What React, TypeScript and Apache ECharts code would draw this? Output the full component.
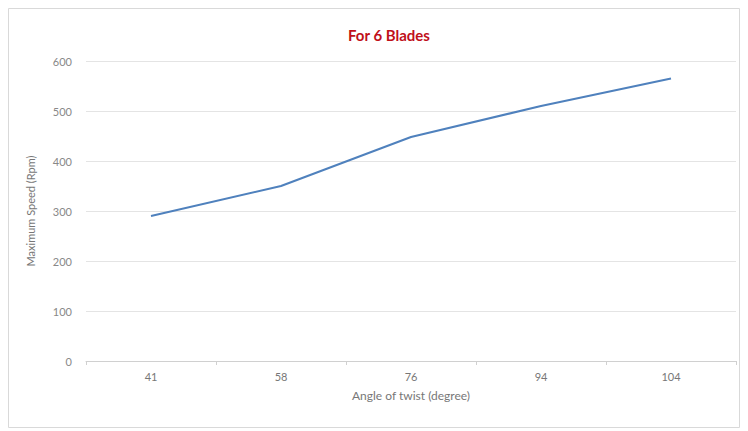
import React, { useEffect, useRef } from "react";
import * as echarts from "echarts";

const categories = ["41", "58", "76", "94", "104"];
const speedValues = [290, 350, 448, 510, 565];
const yTicks = [0, 100, 200, 300, 400, 500, 600];

export default function App() {
  const ref = useRef<HTMLDivElement>(null);
  useEffect(() => {
    if (!ref.current) return;
    const chart = echarts.init(ref.current, undefined, { renderer: "svg" });
    chart.setOption({
      animation: false,
      backgroundColor: "#ffffff",
      title: {
        text: "For 6 Blades",
        left: 384,
        top: 22,
        textAlign: "center",
        textStyle: { color: "#c0101a", fontSize: 15, fontWeight: "bold", fontFamily: "Lato" },
      },
      graphic: [
        {
          type: "rect",
          shape: { x: 8.5, y: 8.5, width: 731, height: 419 },
          style: { fill: "none", stroke: "#d9d9d9", lineWidth: 1 },
          silent: true,
        },
      ],
      grid: { left: 86, right: 12, top: 61, bottom: 70 },
      xAxis: {
        type: "category",
        data: categories,
        boundaryGap: true,
        name: "Angle of twist (degree)",
        nameLocation: "middle",
        nameGap: 28,
        nameTextStyle: { color: "#777", fontSize: 12, fontFamily: "Lato" },
        axisLine: { lineStyle: { color: "#d0d0d0" } },
        axisTick: { show: true, alignWithLabel: false, length: 4, lineStyle: { color: "#d0d0d0" } },
        axisLabel: { color: "#777", fontSize: 11, fontFamily: "Lato", margin: 10 },
      },
      yAxis: {
        type: "value",
        min: yTicks[0],
        max: yTicks[yTicks.length - 1],
        interval: 100,
        name: "Maximum Speed (Rpm)",
        nameLocation: "middle",
        nameGap: 50,
        nameRotate: 90,
        nameTextStyle: { color: "#777", fontSize: 11, fontFamily: "Lato" },
        axisLine: { show: false },
        axisTick: { show: false },
        axisLabel: { color: "#888", fontSize: 11, fontFamily: "Lato", margin: 14 },
        splitLine: { lineStyle: { color: "#e4e4e4" } },
      },
      series: [
        {
          type: "line",
          data: speedValues,
          symbol: "none",
          lineStyle: { color: "#4f81bd", width: 2 },
        },
      ],
    });
    return () => chart.dispose();
  }, []);
  return (
    <div
      ref={ref}
      style={{ position: "fixed", left: 0, top: 0, width: 748, height: 431 }}
    />
  );
}
